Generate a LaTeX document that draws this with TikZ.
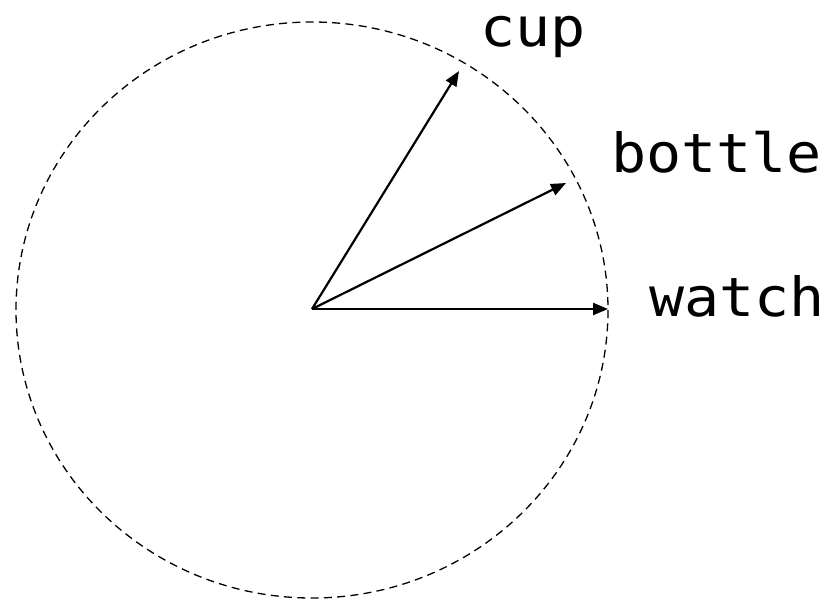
\documentclass[tikz,border=0pt]{standalone}
\usepackage{fontspec}
\newfontfamily\monofont[FakeStretch=1.08]{DejaVu Sans Mono}
\usetikzlibrary{arrows.meta}
\tikzset{
  vec/.style={line width=2.2pt,-{Triangle[length=15pt,width=12pt]}},
  lbl/.style={font=\monofont\fontsize{54}{60}\selectfont,anchor=base west,inner sep=0pt}
}
\begin{document}
\begin{tikzpicture}[x=1pt,y=-1pt]
\useasboundingbox (0,0) rectangle (830,600);
\draw[line width=1.3pt,dash pattern=on 8pt off 5.3pt] (312,310) ellipse [x radius=296, y radius=288];
\coordinate (o) at (312,309);
\coordinate (tc) at (459,71);
\coordinate (tb) at (566,183);
\coordinate (tw) at (608,309);
\draw[vec] (o) -- (tc);
\draw[vec] (o) -- (tb);
\draw[vec] (o) -- (tw);
\node[lbl] (cup) at (480,46) {cup};
\node[lbl] (bottle) at (611,172) {bottle};
\node[lbl] (watch) at (649,316) {watch};
\end{tikzpicture}
\end{document}
